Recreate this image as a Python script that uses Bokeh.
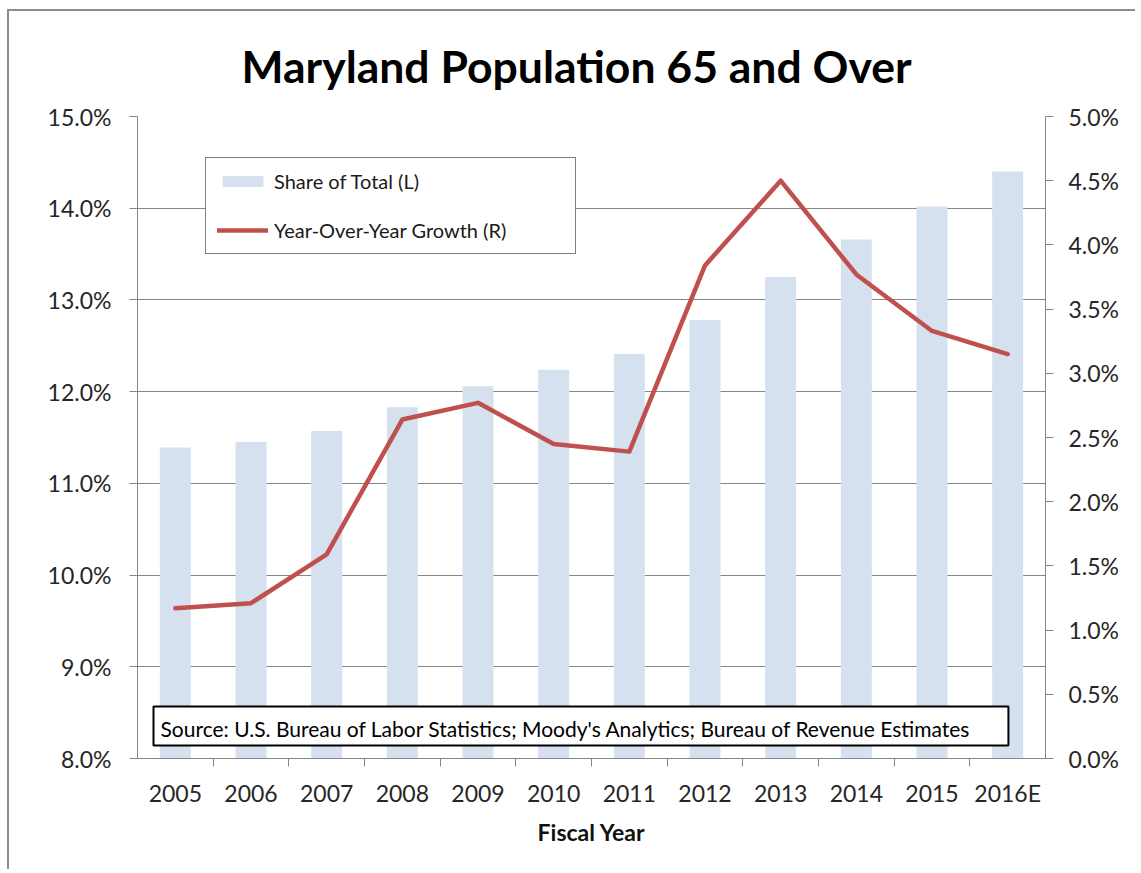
from bokeh.plotting import figure
from bokeh.models import (Range1d, LinearAxis, FixedTicker, PrintfTickFormatter, Legend,
                          LegendItem, BoxAnnotation, Label, ColumnDataSource)
from bokeh.embed import file_html
from bokeh.resources import INLINE

# ---- data ----
years = ["2005", "2006", "2007", "2008", "2009", "2010", "2011", "2012", "2013", "2014", "2015", "2016E"]
share_of_total = [11.39, 11.45, 11.57, 11.83, 12.06, 12.24, 12.41, 12.78, 13.25, 13.66, 14.02, 14.40]
yoy_growth = [1.17, 1.21, 1.59, 2.64, 2.77, 2.45, 2.39, 3.84, 4.50, 3.77, 3.33, 3.15]
left_ticks = [8, 9, 10, 11, 12, 13, 14, 15]
right_ticks = [0, 0.5, 1.0, 1.5, 2.0, 2.5, 3.0, 3.5, 4.0, 4.5, 5.0]

title_text = "Maryland Population 65 and Over"
source_text = "Source: U.S. Bureau of Labor Statistics; Moody's Analytics; Bureau of Revenue Estimates"

FONT = "Lato"
GRAY = "#868686"
TXT = "#262626"
BAR = "#d6e1f0"
RED = "#c0504d"

n = len(years)
centers = [i + 0.5 for i in range(n)]
src = ColumnDataSource(dict(x=centers, share=share_of_total, growth=yoy_growth))

p = figure(width=1128, height=860, x_range=Range1d(0, n), y_range=Range1d(8, 15),
           output_backend="svg", toolbar_location=None,
           min_border_left=128, min_border_right=92, min_border_top=105, min_border_bottom=113)
p.styles = {"border-left": "2px solid #8c8c8c", "border-top": "2px solid #8c8c8c",
            "margin-left": "7px", "margin-top": "9px"}
p.outline_line_color = None
p.background_fill_color = "white"
p.border_fill_color = "white"

p.title.text = title_text
p.title.align = "left"
p.title.offset = 104
p.title.standoff = 49
p.title.text_font = FONT
p.title.text_font_size = "44.5px"
p.title.text_font_style = "bold"
p.title.text_color = "black"

p.extra_y_ranges = {"right": Range1d(0, 5)}

# bars
bars = p.vbar(x="x", top="share", bottom=8, width=0.41, source=src,
              fill_color=BAR, line_color=None)
# line
line = p.line(x="x", y="growth", source=src, y_range_name="right",
              line_color=RED, line_width=4.5, line_join="round", line_cap="round")

# grid
p.xgrid.visible = False
p.ygrid.ticker = FixedTicker(ticks=left_ticks)
p.ygrid.grid_line_color = GRAY
p.ygrid.grid_line_width = 1

# x axis
xa = p.xaxis[0]
xa.ticker = FixedTicker(ticks=centers, minor_ticks=list(range(1, n)))
xa.major_label_overrides = {c: y for c, y in zip(centers, years)}
xa.major_tick_line_color = None
xa.major_tick_out = 0
xa.major_tick_in = 0
xa.minor_tick_line_color = GRAY
xa.minor_tick_out = 8
xa.minor_tick_in = 0
xa.axis_line_color = GRAY
xa.major_label_text_font = FONT
xa.major_label_text_font_size = "23px"
xa.major_label_text_color = TXT
xa.major_label_standoff = 12
xa.axis_label = "Fiscal Year"
xa.axis_label_text_font = FONT
xa.axis_label_text_font_size = "23px"
xa.axis_label_text_font_style = "bold"
xa.axis_label_text_color = "#111111"
xa.axis_label_standoff = 8

# left y axis
ya = p.yaxis[0]
ya.ticker = FixedTicker(ticks=left_ticks)
ya.formatter = PrintfTickFormatter(format="%.1f%%")
ya.axis_line_color = GRAY
ya.major_tick_line_color = GRAY
ya.major_tick_out = 8
ya.major_tick_in = 0
ya.minor_tick_line_color = None
ya.major_label_text_font = FONT
ya.major_label_text_font_size = "23px"
ya.major_label_text_color = TXT
ya.major_label_standoff = 18

# right y axis
ra = LinearAxis(y_range_name="right", ticker=FixedTicker(ticks=right_ticks),
                formatter=PrintfTickFormatter(format="%.1f%%"))
ra.axis_line_color = GRAY
ra.major_tick_line_color = GRAY
ra.major_tick_out = 8
ra.major_tick_in = 0
ra.minor_tick_line_color = None
ra.major_label_text_font = FONT
ra.major_label_text_font_size = "23px"
ra.major_label_text_color = TXT
ra.major_label_standoff = 15
p.add_layout(ra, "right")

# legend
legend = Legend(items=[LegendItem(label="Share of Total (L)", renderers=[bars]),
                       LegendItem(label="Year-Over-Year Growth (R)", renderers=[line])],
                location=(68, 504))
legend.border_line_color = "black"
legend.border_line_width = 1.3
legend.background_fill_color = "white"
legend.background_fill_alpha = 1.0
legend.padding = 11
legend.margin = 0
legend.spacing = 25
legend.glyph_width = 51
legend.glyph_height = 14
legend.label_height = 22
legend.label_width = 290
legend.label_standoff = 6
legend.label_text_font = FONT
legend.label_text_font_size = "20px"
legend.label_text_color = "#1a1a1a"
legend.label_text_baseline = "middle"
p.add_layout(legend)

# source box
p.add_layout(BoxAnnotation(left=0.2115, right=11.51, top=8.567, bottom=8.141,
                           fill_color="white", fill_alpha=1.0, line_color="black", line_width=2,
                           line_alpha=1.0))
p.add_layout(Label(x=0.304, y=8.332, text=source_text, text_align="left", text_baseline="middle",
                   text_font=FONT, text_font_size="21px", text_color="black"))

open("out.html", "w").write(file_html(p, INLINE))
